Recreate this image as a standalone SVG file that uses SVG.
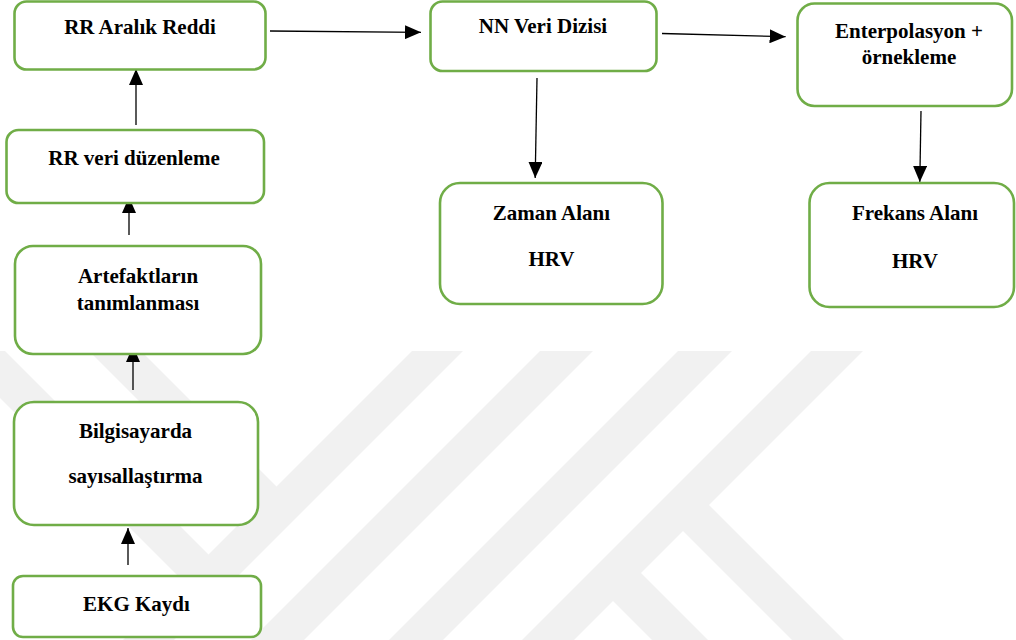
<svg xmlns="http://www.w3.org/2000/svg" width="1016" height="640" viewBox="0 0 1016 640">
  <style>
    .box { fill: #ffffff; stroke: #70ad47; stroke-width: 2.6; }
    .lbl { font-family: "Liberation Serif", "Times New Roman", "DejaVu Serif", serif; font-weight: bold; font-size: 21px; fill: #000000; text-anchor: middle; }
    .edge { stroke: #000000; stroke-width: 1.3; fill: none; marker-end: url(#arrow); }
    .mark { fill: #f1f1f1; stroke: none; }
  </style>
  <defs>
    <marker id="arrow" markerUnits="userSpaceOnUse" markerWidth="16" markerHeight="14" refX="16" refY="7" orient="auto">
      <path d="M0,0 L16,7 L0,14 z" fill="#000000"/>
    </marker>
  </defs>

  <rect width="1016" height="640" fill="#ffffff"/>

  <!-- faint background emblem: diagonal bands with side arms -->
  <g id="emblem">
    <polygon class="mark" points="412,351 463,351 174,640 123,640"/>
    <polygon class="mark" points="540,351 593,351 304,640 251,640"/>
    <polygon class="mark" points="678,351 732,351 443,640 389,640"/>
    <polygon class="mark" points="811,351 863,351 574,640 522,640"/>
    <polygon class="mark" points="696,492 844,640 792,640 670,518"/>
    <polygon class="mark" points="628,560 708,640 652,640 600,588"/>
    <polygon class="mark" points="89,351 141,351 290,500 264,526"/>
    <polygon class="mark" points="0,351 5,351 222,568 196,594 0,398"/>
  </g>

  <g id="connectors">
    <line class="edge" x1="128" y1="565" x2="128" y2="528"/>
    <line class="edge" x1="133" y1="390" x2="133" y2="346"/>
    <line class="edge" x1="129" y1="235" x2="129" y2="197"/>
    <line class="edge" x1="136" y1="125" x2="136" y2="69"/>
    <line class="edge" x1="270" y1="31" x2="421" y2="32.3"/>
    <line class="edge" x1="662" y1="33.5" x2="785.6" y2="36.7"/>
    <line class="edge" x1="537" y1="78" x2="535.2" y2="178"/>
    <line class="edge" x1="921" y1="111" x2="919.8" y2="182"/>
  </g>

  <g id="rr-aralik-reddi">
    <rect class="box" x="14.5" y="1.5" width="251" height="68" rx="12"/>
    <text class="lbl" x="140" y="34">RR Aralık Reddi</text>
  </g>

  <g id="rr-veri-duzenleme">
    <rect class="box" x="6.5" y="130" width="257.5" height="73" rx="12"/>
    <text class="lbl" x="134" y="165">RR veri düzenleme</text>
  </g>

  <g id="artefakt">
    <rect class="box" x="15" y="246" width="246" height="108" rx="18"/>
    <text class="lbl" x="138" y="283">Artefaktların</text>
    <text class="lbl" x="138" y="310">tanımlanması</text>
  </g>

  <g id="bilgisayar">
    <rect class="box" x="14" y="402" width="244" height="123" rx="20"/>
    <text class="lbl" x="135.5" y="438">Bilgisayarda</text>
    <text class="lbl" x="135.5" y="483">sayısallaştırma</text>
  </g>

  <g id="ekg">
    <rect class="box" x="13" y="576" width="248" height="61" rx="10"/>
    <text class="lbl" x="136.5" y="611">EKG Kaydı</text>
  </g>

  <g id="nn-veri">
    <rect class="box" x="430.5" y="1.5" width="226" height="69.5" rx="12"/>
    <text class="lbl" x="543" y="33">NN Veri Dizisi</text>
  </g>

  <g id="enterpolasyon">
    <rect class="box" x="797.5" y="3.5" width="214.5" height="102.5" rx="17"/>
    <text class="lbl" x="909" y="38">Enterpolasyon +</text>
    <text class="lbl" x="909" y="64">örnekleme</text>
  </g>

  <g id="zaman">
    <rect class="box" x="440" y="183" width="222.5" height="121" rx="20"/>
    <text class="lbl" x="551.5" y="220">Zaman Alanı</text>
    <text class="lbl" x="551.5" y="266">HRV</text>
  </g>

  <g id="frekans">
    <rect class="box" x="809.5" y="183" width="204.5" height="124" rx="20"/>
    <text class="lbl" x="915" y="220">Frekans Alanı</text>
    <text class="lbl" x="915" y="268">HRV</text>
  </g>
</svg>
